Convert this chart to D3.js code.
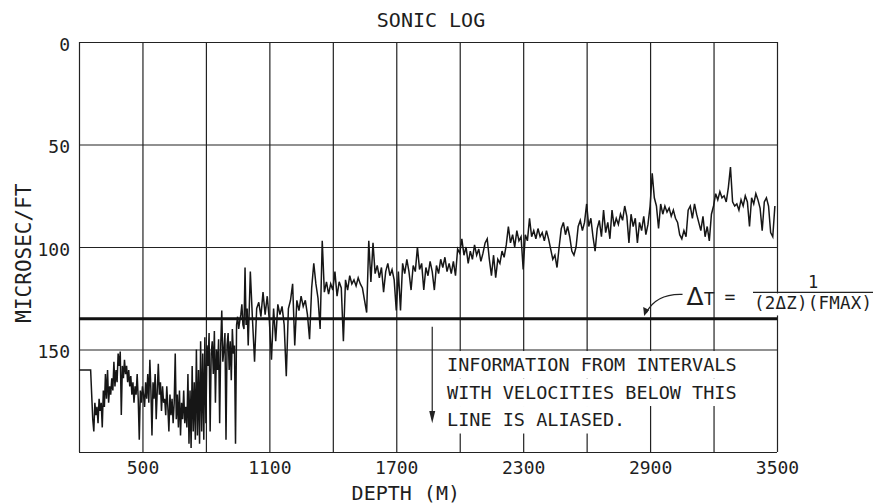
<!DOCTYPE html>
<html><head><meta charset="utf-8">
<script src="https://cdn.jsdelivr.net/npm/d3@7"></script>
<style>
body{margin:0;background:#fff}
svg{display:block;background:#fff}
text{font-family:"DejaVu Sans Mono",monospace;fill:#1e1e1e}
</style>
</head><body><svg id="c" width="874" height="504"></svg>
<script>
// ---- data ----
// shallow section: 200-995 m every 5 m
const shallowStart = 200, shallowStep = 5;
const sonicShallow = [
 160,160,160,160,160,160,160,160,160,160,160,160,
 172,184,190,176,182,178,186,174,180,
 176,188,170,178,162,174,160,176,168,172,164,170,156,168,160,166,152,158,151,182,
 158,164,155,162,158,166,160,168,163,172,166,176,168,172,162,174,194,170,176,168,
 172,178,166,174,162,176,155,170,192,166,174,162,184,170,157,172,166,180,168,176,
 174,182,168,178,190,172,182,174,186,176,152,184,172,188,170,192,176,184,170,186,
 178,188,162,196,170,198,158,190,166,194,150,192,160,196,146,190,152,194,144,186,
 148,158,142,190,152,146,162,141,176,150,160,145,186,148,131,156,150,142,194,148,
 142,160,146,165,140,152,148,196,138,134,140,136,133,128,138,140,110,138,130
];
// deep section: 1000-3490 m every 10 m
const deepStart = 1000, deepStep = 10;
const sonicDeep = [
 148,
 112,135,156,130,127,134,122,133,124,136,
 155,130,146,128,133,129,138,163,130,126,
 118,148,126,131,124,129,126,133,145,120,
 108,118,125,140,97,122,117,123,118,121,
 112,124,117,120,146,116,121,114,118,116,
 119,115,118,120,126,132,97,117,98,113,
 109,115,110,122,112,108,114,111,116,131,
 112,131,108,113,106,112,121,109,112,100,
 111,108,121,110,114,107,112,121,109,113,
 106,110,105,112,108,113,107,114,101,103,
 96,104,100,108,102,106,99,104,101,107,
 103,98,96,106,114,104,115,106,108,102,
 105,99,90,98,94,100,92,97,95,111,
 94,97,86,95,92,96,91,95,93,97,
 92,96,101,106,104,110,100,91,88,94,
 90,95,102,104,100,90,87,92,88,79,
 90,86,95,102,91,87,95,82,93,88,
 96,82,90,86,89,84,87,80,85,98,
 84,90,86,98,88,92,85,94,89,80,
 64,76,80,91,79,84,80,83,81,85,
 82,86,88,94,96,92,95,82,80,86,
 79,84,88,92,85,95,90,97,84,80,
 74,77,73,76,75,78,71,61,78,80,
 79,82,77,80,75,78,90,76,79,74,
 77,81,92,78,76,80,93,95,80
];
const xGrid = [200,500,800,1100,1400,1700,2000,2300,2600,2900,3200,3500];
const xTickLabels = [500,1100,1700,2300,2900,3500];
const yGrid = [0,50,100,150,200];
const yTickLabels = [0,50,100,150];
const aliasLimit = 135;
const titleText = "SONIC LOG";
const xLabelText = "DEPTH (M)";
const yLabelText = "MICROSEC/FT";
const noteLines = ["INFORMATION FROM INTERVALS","WITH VELOCITIES BELOW THIS","LINE IS ALIASED."];

// ---- layout ----
const W = 874, H = 504;
const m = {left:79, right:97, top:42, bottom:52};
const svg = d3.select("#c");
const x = d3.scaleLinear().domain([200,3500]).range([m.left, W-m.right]);
const y = d3.scaleLinear().domain([0,200]).range([m.top, H-m.bottom]);
const ink = "#222";

// grid via axes
const gx = svg.append("g").attr("transform",`translate(0,${y(200)})`)
  .call(d3.axisBottom(x).tickValues(xGrid).tickSize(-(y(200)-y(0))).tickPadding(9)
    .tickFormat(d => xTickLabels.includes(d) ? d : ""));
gx.select(".domain").remove();
gx.selectAll("line").attr("stroke",ink).attr("stroke-width",1.2);
gx.selectAll("text").attr("font-size",18).attr("fill",ink).attr("font-family","DejaVu Sans Mono");

const gy = svg.append("g").attr("transform",`translate(${x(200)},0)`)
  .call(d3.axisLeft(y).tickValues(yGrid).tickSize(-(x(3500)-x(200))).tickPadding(9)
    .tickFormat(d => yTickLabels.includes(d) ? d : ""));
gy.select(".domain").remove();
gy.selectAll("line").attr("stroke",ink).attr("stroke-width",1.2);
gy.selectAll("text").attr("font-size",18).attr("fill",ink).attr("dy","0.45em").attr("font-family","DejaVu Sans Mono");

// data line
const pts = sonicShallow.map((v,i)=>({d: shallowStart + i*shallowStep, v}))
  .concat(sonicDeep.map((v,i)=>({d: deepStart + i*deepStep, v})));
svg.append("path").datum(pts)
  .attr("fill","none").attr("stroke","#161616").attr("stroke-width",1.5).attr("stroke-linejoin","miter")
  .attr("d", d3.line().x(p=>x(p.d)).y(p=>y(p.v)));

// alias threshold line
svg.append("line").attr("x1",x(200)).attr("x2",x(3500)).attr("y1",y(aliasLimit)).attr("y2",y(aliasLimit))
  .attr("stroke","#111").attr("stroke-width",3.2);

// note text block with white backing
const noteX = x(1940), noteY0 = y(160.5), noteDy = 27.5;
const noteG = svg.append("g");
noteLines.forEach((t,i)=>{
  const tx = noteG.append("text").attr("x",noteX).attr("y",noteY0 + i*noteDy)
    .attr("font-size",18.5).text(t);
  const bb = tx.node().getBBox();
  noteG.insert("rect",() => tx.node()).attr("x",bb.x-3).attr("y",noteY0 + i*noteDy - 20)
    .attr("width",bb.width+6).attr("height",noteDy).attr("fill","#fff");
});

// down arrow
const ax = x(1870);
svg.append("line").attr("x1",ax).attr("x2",ax).attr("y1",y(aliasLimit)+8).attr("y2",y(184)).attr("stroke",ink).attr("stroke-width",1.2);
svg.append("path").attr("d",`M${ax},${y(186)} L${ax-3},${y(180)} L${ax+3},${y(180)} Z`).attr("fill",ink);

// formula
const fg = svg.append("g");
const fx = x(3460) - 82, fy = y(128.5);
const ft = fg.append("text").attr("x",fx).attr("y",fy).attr("font-size",18);
ft.append("tspan").attr("font-size",25).attr("font-family","DejaVu Sans").text("Δ");
ft.append("tspan").text("T");
fg.append("text").attr("x",fx+38).attr("y",fy-2).attr("font-size",18).text("=");
const fracL = x(3500) - 24, fracR = x(3500) + 96, barY = fy - 13;
const den = fg.append("text").attr("x",(fracL+fracR)/2).attr("y",barY+17).attr("text-anchor","middle").attr("font-size",17.5)
  .attr("textLength",fracR-fracL-2).text("(2ΔZ)(FMAX)");
const dbb = den.node().getBBox();
fg.insert("rect", () => den.node()).attr("x",dbb.x).attr("y",barY+1).attr("width",dbb.width).attr("height",dbb.height+2).attr("fill","#fff");
fg.append("line").attr("x1",fracL).attr("x2",fracR).attr("y1",barY).attr("y2",barY).attr("stroke",ink).attr("stroke-width",1.3);
fg.append("text").attr("x",(fracL+fracR)/2).attr("y",barY-4).attr("text-anchor","middle").attr("font-size",17).text("1");

// curved arrow
const s = [fx - 4, fy - 11], e = [x(2872), y(133.6)];
svg.append("path").attr("d",`M${s[0]},${s[1]} Q${e[0]+12},${s[1]-1} ${e[0]+2},${e[1]-3}`)
  .attr("fill","none").attr("stroke",ink).attr("stroke-width",1.3);
svg.append("path").attr("d",`M${e[0]},${e[1]} L${e[0]-1},${e[1]-9} L${e[0]+5},${e[1]-6} Z`).attr("fill",ink);

// titles
svg.append("text").attr("x",x(1850)+3).attr("y",27).attr("text-anchor","middle").attr("font-size",20).text(titleText);
svg.append("text").attr("x",x(1745)).attr("y",500).attr("text-anchor","middle").attr("font-size",20).text(xLabelText);
svg.append("text").attr("transform",`translate(31,${y(103)}) rotate(-90)`).attr("text-anchor","middle")
  .attr("font-size",21).text(yLabelText);
</script></body></html>
